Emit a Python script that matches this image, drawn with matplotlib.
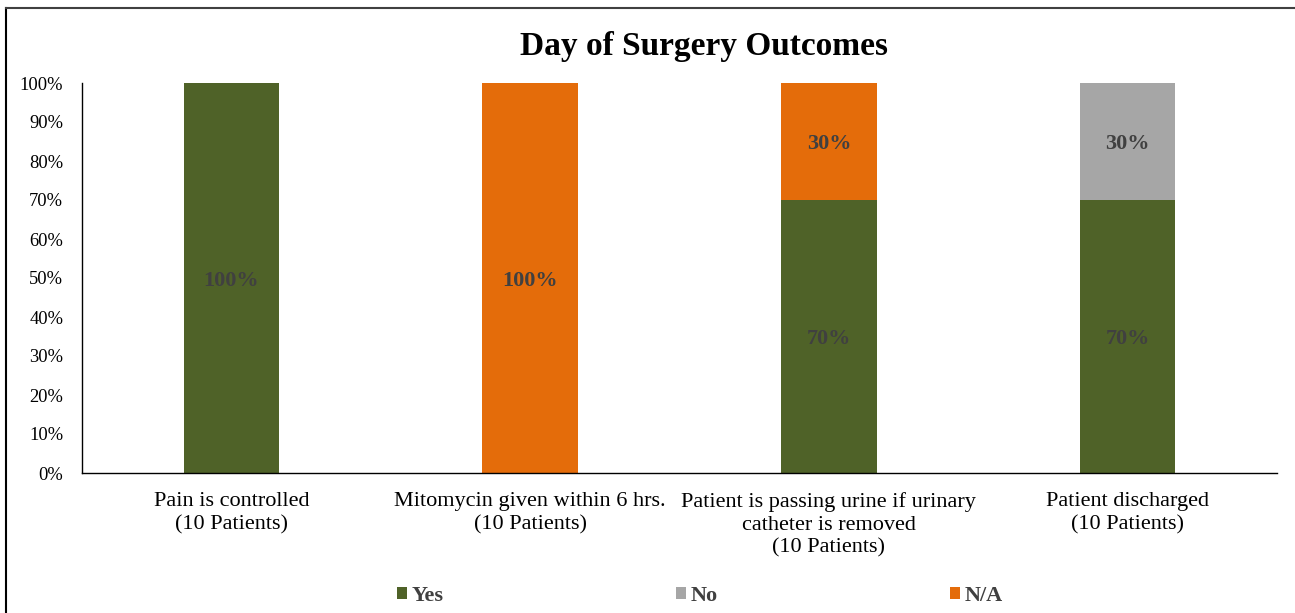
import matplotlib
matplotlib.use("Agg")
import matplotlib.pyplot as plt
from matplotlib.patches import Patch
from matplotlib.lines import Line2D
import numpy as np

categories = ["Pain is controlled\n(10 Patients)",
              "Mitomycin given within 6 hrs.\n(10 Patients)",
              "Patient is passing urine if urinary\ncatheter is removed\n(10 Patients)",
              "Patient discharged\n(10 Patients)"]
series_names = ["Yes", "No", "N/A"]
yes_vals = [100, 0, 70, 70]
no_vals = [0, 0, 0, 30]
na_vals = [0, 100, 30, 0]
colors = ["#4F6228", "#A6A6A6", "#E46C0A"]
yticks = [0, 10, 20, 30, 40, 50, 60, 70, 80, 90, 100]

plt.rcParams['font.family'] = ['Liberation Serif', 'DejaVu Serif']

W, H = 1295, 613
fig = plt.figure(figsize=(W/100, H/100), dpi=100)
ax = fig.add_axes([82/W, 1-473/H, (1277-82)/W, (473-83)/H])

x = np.arange(len(categories))
bw = 0.32
bottom = np.zeros(len(categories))
for vals, name, col in zip([yes_vals, no_vals, na_vals], series_names, colors):
    v = np.array(vals, dtype=float)
    ax.bar(x, v, bw, bottom=bottom, color=col, label=name, zorder=2)
    for xi, b, h in zip(x, bottom, v):
        if h > 0:
            ax.text(xi, b + h/2, f"{int(h)}%", ha='center', va='center_baseline',
                    fontsize=16, fontweight='bold', color='#404040', zorder=3)
    bottom += v

ax.set_xlim(-0.5, 3.5)
ax.set_ylim(0, 100)
ax.set_yticks(yticks)
ax.set_yticklabels([f"{t}%" for t in yticks], fontsize=13.3)
ax.set_xticks(x)
ax.set_xticklabels(categories, fontsize=16, linespacing=1.25)
ax.tick_params(axis='both', length=0)
ax.tick_params(axis='x', pad=14)
ax.tick_params(axis='y', pad=13.5)
for s in ['top', 'right']:
    ax.spines[s].set_visible(False)
for s in ['left', 'bottom']:
    ax.spines[s].set_color('black')
    ax.spines[s].set_linewidth(1.0)

fig.text(704/W, 1-46/H, "Day of Surgery Outcomes", ha='center', va='center',
         fontsize=24, fontweight='bold', color='black')

handles = [Patch(facecolor=c, edgecolor='none') for c in colors]
leg = fig.legend(handles, series_names, loc='center', bbox_to_anchor=(700/W, 1-596/H),
                 ncol=3, frameon=False, handlelength=0.45, handleheight=0.45,
                 handletextpad=0.2, columnspacing=10.45,
                 prop={'family': 'Liberation Serif', 'weight': 'bold', 'size': 16})
for t in leg.get_texts():
    t.set_color('#404040')

# figure border (left and top visible)
fig.add_artist(Line2D([6/W, 6/W], [0, 1-8/H], transform=fig.transFigure, color='black', lw=1.5))
fig.add_artist(Line2D([6/W, 1], [1-8/H, 1-8/H], transform=fig.transFigure, color='#404040', lw=1.5))

fig.savefig("out.png", dpi=100)
